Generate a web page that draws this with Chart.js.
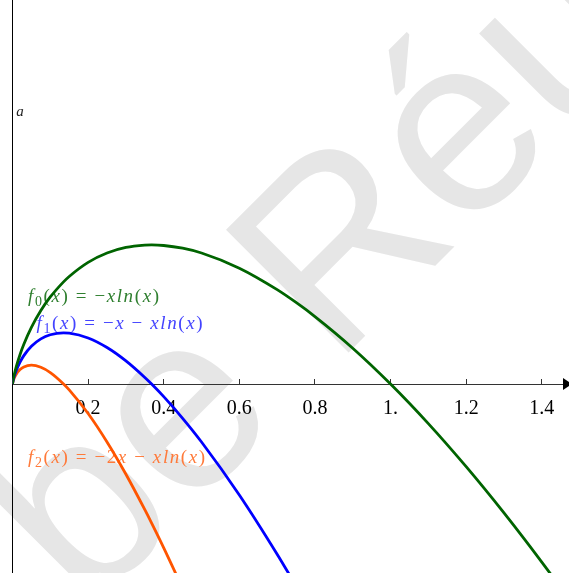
<!DOCTYPE html>
<html lang="fr">
<head>
<meta charset="utf-8">
<title>f0, f1, f2</title>
<script src="https://cdn.jsdelivr.net/npm/chart.js@4.4.1/dist/chart.umd.min.js"></script>
<style>
    html, body { margin: 0; padding: 0; background: #fff; overflow: hidden; }
    #grafico { display: block; }
</style>
</head>
<body>
<canvas id="grafico" width="569" height="573"></canvas>
<script>
// Valores (abscissas comuns às três curvas)
const valoresX = [0, 0.001, 0.0025, 0.005, 0.01, 0.02, 0.03, 0.05, 0.075, 0.1, 0.135, 0.15, 0.2, 0.25, 0.3, 0.35, 0.368, 0.4, 0.45, 0.5, 0.6, 0.7, 0.75, 0.8, 0.9, 1, 1.1, 1.2, 1.3, 1.4, 1.45];

// f0(x) = -x ln(x)
const valoresF0 = [0, 0.0069, 0.0150, 0.0265, 0.0461, 0.0782, 0.1052, 0.1498, 0.1943, 0.2303, 0.2703, 0.2846, 0.3219, 0.3466, 0.3612, 0.3674, 0.3679, 0.3665, 0.3593, 0.3466, 0.3065, 0.2497, 0.2158, 0.1785, 0.0948, 0, -0.1048, -0.2188, -0.3411, -0.4711, -0.5388];

// f1(x) = -x - x ln(x)  (até sair pela parte de baixo)
const valoresF1 = [0, 0.0059, 0.0125, 0.0215, 0.0361, 0.0582, 0.0752, 0.0998, 0.1193, 0.1303, 0.1353, 0.1346, 0.1219, 0.0966, 0.0612, 0.0174, -0.0001, -0.0335, -0.0907, -0.1534, -0.2935, -0.4503, -0.5342];

// f2(x) = -2x - x ln(x)
const valoresF2 = [0, 0.0049, 0.0100, 0.0165, 0.0261, 0.0382, 0.0452, 0.0498, 0.0443, 0.0303, 0.0003, -0.0154, -0.0781, -0.1534, -0.2388, -0.3326, -0.3681, -0.4335, -0.5407];

// Marcas do eixo x
const ticksX = [0.2, 0.4, 0.6, 0.8, 1, 1.2, 1.4];
const rotulosX = ['0.2', '0.4', '0.6', '0.8', '1.', '1.2', '1.4'];

// Textos das fórmulas (pedaços: i = itálico, r = normal, s = índice)
const formulaF0 = [['f', 'i'], ['0', 's'], ['(', 'r'], ['x', 'i'], [')', 'r'], [' = ', 'r'], ['\u2212', 'r'], ['xln', 'i'], ['(', 'r'], ['x', 'i'], [')', 'r']];
const formulaF1 = [['f', 'i'], ['1', 's'], ['(', 'r'], ['x', 'i'], [')', 'r'], [' = ', 'r'], ['\u2212', 'r'], ['x', 'i'], [' \u2212 ', 'r'], ['xln', 'i'], ['(', 'r'], ['x', 'i'], [')', 'r']];
const formulaF2 = [['f', 'i'], ['2', 's'], ['(', 'r'], ['x', 'i'], [')', 'r'], [' = ', 'r'], ['\u22122', 'r'], ['x', 'i'], [' \u2212 ', 'r'], ['xln', 'i'], ['(', 'r'], ['x', 'i'], [')', 'r']];

// Onde cada fórmula fica (em coordenadas do gráfico)
const anotacoes = [
    { partes: formulaF0, x: 0.041, y: 0.217, cor: '#2f7f2f' },
    { partes: formulaF1, x: 0.0635, y: 0.1455, cor: '#4343ff' },
    { partes: formulaF2, x: 0.041, y: -0.209, cor: '#ff7a3a' }
];

const FONTE_SERIFA = '"Liberation Serif", "DejaVu Serif", serif';

function montarPontos(valores) {
    return valores.map((v, i) => ({ x: valoresX[i], y: v }));
}

// Desenha uma fórmula em pedaços
function desenharFormula(ctx, partes, x, y, tamanho, cor) {
    ctx.save();
    ctx.fillStyle = cor;
    ctx.textAlign = 'left';
    ctx.textBaseline = 'alphabetic';
    ctx.letterSpacing = '1.6px';
    let posX = x;
    partes.forEach(([texto, estilo]) => {
        let dy = 0;
        if (estilo === 'i') {
            ctx.font = `italic ${tamanho}px ${FONTE_SERIFA}`;
        } else if (estilo === 's') {
            ctx.font = `${Math.round(tamanho * 0.72)}px ${FONTE_SERIFA}`;
            dy = tamanho * 0.2;
        } else {
            ctx.font = `${tamanho}px ${FONTE_SERIFA}`;
        }
        ctx.fillText(texto, posX, y + dy);
        posX += ctx.measureText(texto).width;
    });
    ctx.restore();
}

const pluginDecoracao = {
    id: 'decoracao',
    // Marca d'água por trás de tudo
    beforeDraw(chart) {
        const ctx = chart.ctx;
        ctx.save();
        ctx.fillStyle = '#e6e6e6';
        ctx.font = '252px "Liberation Sans", Arial, sans-serif';
        ctx.textBaseline = 'alphabetic';
        ctx.translate(334, 367);
        ctx.rotate(-Math.PI / 4);
        ctx.textAlign = 'right';
        ctx.fillText('be ', 0, 0);
        ctx.textAlign = 'left';
        ctx.fillText('Réu', 0, 0);
        ctx.restore();
    },
    // Fórmulas e o "a" antes das curvas
    beforeDatasetsDraw(chart) {
        const ctx = chart.ctx;
        const { x, y } = chart.scales;
        anotacoes.forEach(a => {
            desenharFormula(ctx, a.partes, x.getPixelForValue(a.x), y.getPixelForValue(a.y), 19, a.cor);
        });
        ctx.save();
        ctx.fillStyle = '#222';
        ctx.font = `italic 15px ${FONTE_SERIFA}`;
        ctx.fillText('a', x.getPixelForValue(0.01), y.getPixelForValue(0.708));
        ctx.restore();
    },
    // Seta no fim do eixo x
    afterDraw(chart) {
        const ctx = chart.ctx;
        const area = chart.chartArea;
        const y0 = chart.scales.y.getPixelForValue(0);
        ctx.save();
        ctx.fillStyle = '#000';
        ctx.beginPath();
        ctx.moveTo(area.right - 6, y0 - 6);
        ctx.lineTo(area.right + 3, y0);
        ctx.lineTo(area.right - 6, y0 + 6);
        ctx.closePath();
        ctx.fill();
        ctx.restore();
    }
};

function criarGrafico() {
    const ctx = document.getElementById('grafico').getContext('2d');
    const estiloCurva = {
        showLine: true,
        pointRadius: 0,
        borderWidth: 2.8,
        cubicInterpolationMode: 'monotone',
        fill: false
    };

    new Chart(ctx, {
        type: 'scatter',
        data: {
            datasets: [
                { ...estiloCurva, label: 'f0', data: montarPontos(valoresF0), borderColor: '#006400' },
                { ...estiloCurva, label: 'f1', data: montarPontos(valoresF1), borderColor: '#0000ff' },
                { ...estiloCurva, label: 'f2', data: montarPontos(valoresF2), borderColor: '#ff5500' }
            ]
        },
        options: {
            responsive: false,
            animation: false,
            events: [],
            layout: { padding: { left: 12.5, right: 0, top: 0, bottom: 0 } },
            plugins: {
                legend: { display: false },
                tooltip: { enabled: false }
            },
            scales: {
                x: {
                    type: 'linear',
                    min: 0,
                    max: 1.472,
                    position: { y: 0 },
                    afterBuildTicks: escala => { escala.ticks = ticksX.map(v => ({ value: v })); },
                    // o eixo fica no meio: não ocupa espaço nem empurra a área
                    afterFit: escala => {
                        escala.height = 0;
                        escala.paddingLeft = 0;
                        escala.paddingRight = 0;
                    },
                    ticks: {
                        autoSkip: false,
                        maxRotation: 0,
                        padding: 19,
                        color: '#000',
                        font: { family: FONTE_SERIFA, size: 20 },
                        callback: (valor, indice) => rotulosX[indice]
                    },
                    // marcas viradas para cima, como no original
                    grid: {
                        drawOnChartArea: false,
                        drawTicks: true,
                        tickLength: -6,
                        color: '#333'
                    },
                    border: { display: true, color: '#333', width: 1 }
                },
                y: {
                    type: 'linear',
                    min: -0.5,
                    max: 1.016,
                    position: { x: 0 },
                    afterFit: escala => {
                        escala.width = 0;
                        escala.paddingTop = 0;
                        escala.paddingBottom = 0;
                    },
                    ticks: { display: false },
                    grid: { display: false },
                    border: { display: true, color: '#000', width: 1 }
                }
            }
        },
        plugins: [pluginDecoracao]
    });
}

criarGrafico();
</script>
</body>
</html>
